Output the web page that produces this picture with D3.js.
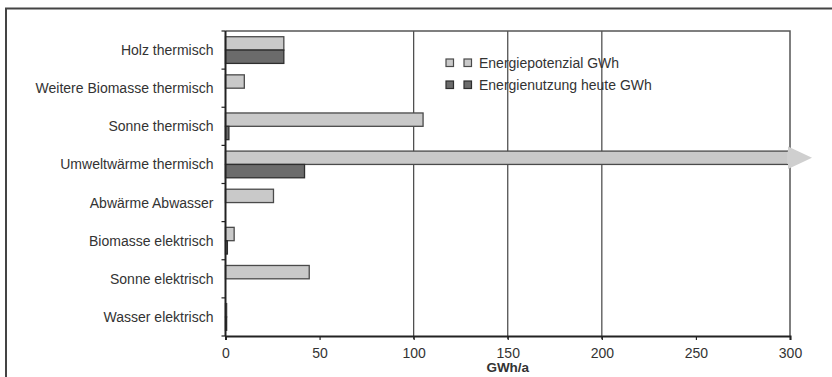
<!DOCTYPE html>
<html>
<head>
<meta charset="utf-8">
<script src="https://cdn.jsdelivr.net/npm/d3@7"></script>
<style>
  body { margin: 0; background: #fff; }
  svg { display: block; font-family: "Liberation Sans", Arial, sans-serif; }
</style>
</head>
<body>
<svg id="chart" width="832" height="377"></svg>
<script>
// categories, top to bottom
const categories = [
    "Holz thermisch",
    "Weitere Biomasse thermisch",
    "Sonne thermisch",
    "Umweltwärme thermisch",
    "Abwärme Abwasser",
    "Biomasse elektrisch",
    "Sonne elektrisch",
    "Wasser elektrisch"
];

// series values (GWh/a); Umweltwärme potential runs off the axis (arrow)
const potenzial = [31, 10, 105, 330, 25.5, 4.6, 44.5, 0.6];
const nutzung = [31, 0, 1.8, 42, 0, 1, 0, 0.6];

const seriesNames = ["Energiepotenzial GWh", "Energienutzung heute GWh"];
const xTicks = [0, 50, 100, 150, 200, 250, 300];
const gridTicks = [100, 150, 200];

const series = [
    { name: seriesNames[0], values: potenzial, fill: "#c9c9c9", stroke: "#4a4a4a" },
    { name: seriesNames[1], values: nutzung, fill: "#6b6b6b", stroke: "#2e2e2e" }
];

const svg = d3.select("#chart");
const margin = { top: 31, right: 42, bottom: 41, left: 225.5 };
const width = 832, height = 377;
const innerW = width - margin.left - margin.right;
const innerH = height - margin.top - margin.bottom;
const xMax = 300;

//outer frame (only top and left edge are inside the picture)
svg.append("path")
    .attr("d", `M6,${height} L6,8.5 L${width},8.5`)
    .attr("fill", "none")
    .attr("stroke", "#444")
    .attr("stroke-width", 2);

const g = svg.append("g")
    .attr("transform", `translate(${margin.left},${margin.top})`);

const x = d3.scaleLinear().domain([0, xMax]).range([0, innerW]);
const y = d3.scaleBand().domain(categories).range([0, innerH])
    .paddingInner(0.3).paddingOuter(0.15);
const ySub = d3.scaleBand().domain(seriesNames).range([0, y.bandwidth()]);

//gridlines (only some, like the original)
g.selectAll("line.grid")
    .data(gridTicks)
    .enter()
    .append("line")
    .attr("class", "grid")
    .attr("x1", d => x(d)).attr("x2", d => x(d))
    .attr("y1", 0).attr("y2", innerH + 3)
    .attr("stroke", "#444")
    .attr("stroke-width", 1.2);

//plot border top and right
g.append("path")
    .attr("d", `M0,0 L${innerW},0 L${innerW},${innerH}`)
    .attr("fill", "none")
    .attr("stroke", "#555")
    .attr("stroke-width", 1.5);

//bars
series.forEach(s => {
    g.selectAll(null)
        .data(categories)
        .enter()
        .append("rect")
        .attr("x", 0)
        .attr("y", c => y(c) + ySub(s.name))
        .attr("width", (c, i) => x(Math.min(s.values[i], xMax)))
        .attr("height", ySub.bandwidth())
        .attr("fill", s.fill)
        .attr("stroke", s.stroke)
        .attr("stroke-width", 1.3);

    //arrow for values beyond the axis
    categories.forEach((c, i) => {
        if (s.values[i] > xMax) {
            const y0 = y(c) + ySub(s.name);
            const h = ySub.bandwidth();
            g.append("path")
                .attr("d", `M${x(xMax) - 2},${y0 - 4.5} L${x(xMax) + 22},${y0 + h / 2} L${x(xMax) - 2},${y0 + h + 4.5} Z`)
                .attr("fill", "#cfcfcf");
            g.append("rect")
                .attr("x", x(xMax) - 3)
                .attr("y", y0 + 0.7)
                .attr("width", 4)
                .attr("height", h - 1.4)
                .attr("fill", "#cfcfcf");
        }
    });
});

//y axis
const yAxisG = g.append("g");
yAxisG.append("line")
    .attr("x1", 0).attr("x2", 0).attr("y1", 0).attr("y2", innerH)
    .attr("stroke", "#222").attr("stroke-width", 2);
yAxisG.selectAll("line.tick")
    .data(d3.range(categories.length + 1))
    .enter()
    .append("line")
    .attr("x1", -4).attr("x2", 0)
    .attr("y1", i => i * y.step()).attr("y2", i => i * y.step())
    .attr("stroke", "#222").attr("stroke-width", 1.2);
yAxisG.selectAll("text")
    .data(categories)
    .enter()
    .append("text")
    .attr("x", -12)
    .attr("y", c => y(c) + y.bandwidth() / 2)
    .attr("text-anchor", "end")
    .attr("dominant-baseline", "central")
    .style("font-size", "14px")
    .style("fill", "#333")
    .text(c => c);

//x axis
const xAxis = d3.axisBottom(x)
    .tickValues(xTicks)
    .tickSize(4)
    .tickPadding(8)
    .tickFormat(d3.format("d"));

const xAxisG = g.append("g")
    .attr("transform", `translate(0,${innerH})`)
    .style("font-size", "14px")
    .style("font-family", "Liberation Sans, Arial, sans-serif");
xAxis(xAxisG);
xAxisG.select(".domain").attr("stroke", "#222").attr("stroke-width", 2);
xAxisG.selectAll(".tick line").attr("stroke", "#222").attr("stroke-width", 1.2);
xAxisG.selectAll(".tick text").attr("fill", "#333");

g.append("text")
    .attr("x", x(150))
    .attr("y", innerH + 36)
    .attr("text-anchor", "middle")
    .style("font-size", "13.5px")
    .style("font-weight", "bold")
    .style("fill", "#333")
    .text("GWh/a");

//legend (two swatches per entry, as in the original)
const legend = svg.append("g")
    .attr("transform", "translate(446,59)");
series.forEach((s, i) => {
    const row = legend.append("g").attr("transform", `translate(0,${i * 22})`);
    [0, 18].forEach(dx => {
        row.append("rect")
            .attr("x", dx).attr("y", 0)
            .attr("width", 7.5).attr("height", 7.5)
            .attr("fill", s.fill)
            .attr("stroke", s.stroke)
            .attr("stroke-width", 1.2);
    });
    row.append("text")
        .attr("x", 33)
        .attr("y", 4)
        .attr("dominant-baseline", "central")
        .style("font-size", "14px")
        .style("fill", "#333")
        .text(s.name);
});
</script>
</body>
</html>
